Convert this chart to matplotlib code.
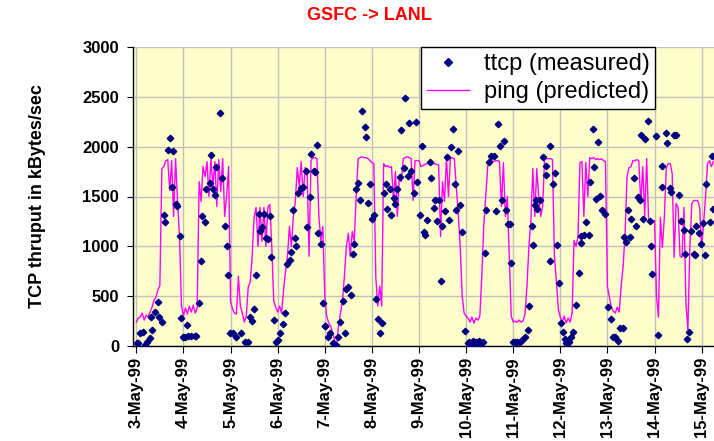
import numpy as np
import matplotlib
matplotlib.use('Agg')
import matplotlib.pyplot as plt

# hourly ping-predicted throughput (kBytes/sec), one list per day starting 00:00
ping_may03 = [240, 280, 290, 330, 260, 310, 290, 340, 390, 460, 490, 560, 610, 1780, 1800, 1860,
              1870, 1560, 1860, 1300, 1880, 1450, 1100, 400]
ping_may04 = [300, 380, 320, 400, 340, 410, 330, 380, 1650, 1450, 1800, 1700, 1850, 1500, 1880, 1600,
              1850, 1400, 1870, 1550, 1880, 1300, 1500, 1800]
ping_may05 = [450, 370, 330, 320, 700, 400, 330, 240, 300, 590, 640, 900, 1290, 1390, 1000, 1390,
              1050, 1390, 1000, 1390, 1420, 1000, 450, 390]
ping_may06 = [340, 400, 330, 560, 750, 900, 1200, 1000, 1300, 1450, 1790, 1600, 1850, 1500, 1790, 1750,
              900, 1860, 1890, 1890, 1880, 1300, 1050, 1200]
ping_may07 = [500, 300, 230, 200, 130, 60, 10, 200, 330, 450, 700, 1000, 1130, 900, 1150, 1050,
              1500, 1880, 1890, 1900, 1890, 1890, 1880, 1860]
ping_may08 = [1840, 1830, 690, 400, 600, 400, 1830, 1800, 1810, 1790, 1800, 1450, 1750, 1300, 1700, 1650,
              1880, 1890, 1900, 1890, 1880, 1460, 1860, 1860]
ping_may09 = [1860, 1800, 1810, 1820, 1830, 1830, 1830, 1830, 1830, 1820, 1820, 1100, 1650, 1450, 1890, 1500,
              1880, 1890, 1880, 1600, 1330, 1000, 500, 330]
ping_may10 = [300, 280, 240, 290, 230, 280, 260, 300, 700, 1200, 1500, 1800, 1860, 1860, 1850, 1860,
              1860, 1850, 1400, 1840, 1300, 1500, 900, 300]
ping_may11 = [240, 250, 240, 260, 240, 250, 320, 600, 1000, 1250, 1780, 1300, 1780, 1500, 1300, 1400,
              1880, 1880, 1880, 1880, 1870, 900, 650, 370]
ping_may12 = [290, 240, 300, 230, 280, 240, 330, 1060, 1000, 1100, 1840, 1850, 1300, 1840, 1500, 1890,
              1880, 1890, 1870, 1880, 1870, 1880, 1860, 1850]
ping_may13 = [600, 490, 390, 350, 330, 390, 340, 600, 800, 1130, 1700, 1790, 1800, 1860, 1860, 1870,
              1860, 1430, 1800, 1300, 1880, 1250, 1260, 1250]
ping_may14 = [1260, 500, 290, 1290, 990, 1290, 1790, 1830, 1830, 1730, 890, 1430, 1390, 900, 890, 1390,
              430, 160, 990, 1430, 1460, 1460, 1460, 1390]
ping_may15 = [990, 1230, 1500, 1830, 1860, 1800, 1850]

# ttcp measurements: hours since 3-May-99 00:00 and throughput
ttcp_hours = [0.3, 0.8, 2.0, 3.4, 4.2, 5.4, 6.8, 7.6, 8.1, 9.3, 11.0, 11.5, 13.2, 13.9, 14.7, 16.1,
              17.0, 18.1, 18.6, 20.0, 20.7, 22.0, 22.6, 24.0, 24.6, 25.9, 26.5, 28.0, 29.7, 30.6, 31.9, 33.1,
              33.6, 34.8, 35.6, 37.3, 38.2, 39.0, 39.9, 40.7, 42.8, 43.8, 45.0, 46.3, 46.8, 47.7,
              49.2, 50.8, 53.1, 55.2, 56.8, 57.7, 58.9, 60.0, 61.1, 62.3, 63.1, 64.1, 64.9, 66.2, 67.0, 68.2,
              68.7, 70.1, 71.3, 72.1, 73.4, 74.7, 75.9, 76.9, 78.1, 79.0, 79.8, 80.6, 81.5, 82.3, 83.7, 84.9,
              86.6, 87.1, 88.3, 89.1, 90.5, 91.2, 92.2, 92.8, 94.2, 95.0, 95.9,
              96.0, 97.6, 98.8, 100.2, 101.0, 101.9, 102.7, 103.9, 105.3, 106.1, 107.0, 107.8, 109.2, 110.4,
              110.9, 112.1, 113.0, 114.1, 115.1, 116.3, 116.8, 118.0, 118.9, 120.1, 120.9, 121.9, 123.1, 124.0,
              125.3, 126.0, 127.0, 127.8, 129.0, 129.9, 131.1, 131.9, 132.8, 134.2, 135.0, 136.4, 137.1, 138.4,
              138.9, 140.1, 141.3, 142.3, 143.2,
              144.3, 145.5, 146.6, 147.2, 148.2, 149.4, 150.3, 151.6, 152.3, 153.3, 154.0, 155.0, 155.8, 157.1,
              158.4, 159.1, 160.5, 161.3, 162.2, 163.0, 163.8, 164.7, 165.9, 167.3, 168.9, 169.7, 170.6, 171.4,
              172.3, 173.1, 174.0, 174.8, 175.7, 176.6, 177.5, 178.3, 179.7, 180.9, 182.2, 183.1, 184.3, 185.1,
              186.3, 187.3, 188.5, 189.4, 190.2, 191.1, 191.9,
              192.8, 193.9, 195.3, 196.6, 197.8, 199.5, 200.0, 201.5, 202.1, 202.9, 203.4, 204.1, 205.4, 207.1,
              208.5, 208.9, 210.6, 210.9, 212.3, 213.1, 214.3, 215.2, 216.5, 217.3, 218.2, 219.0, 220.4, 221.6,
              222.5, 224.2, 225.5, 226.4, 226.7, 228.1, 229.0, 230.7, 231.3, 232.7, 233.2, 234.4, 235.3, 236.4,
              237.0, 238.6, 240.3,
              241.7, 243.0, 244.1, 245.4, 246.3, 248.0, 248.5, 249.6, 250.5, 251.4, 252.2, 253.6, 254.8, 255.6,
              256.4, 257.3, 258.1, 259.3, 260.7, 261.5, 262.4, 262.9, 264.6, 265.8, 267.8, 268.0, 270.0, 270.5,
              271.8, 272.3, 273.9, 275.1, 276.3, 277.6, 279.0, 279.7, 280.7, 281.4, 282.7, 284.1, 284.8, 285.3,
              286.5, 287.5, 288.7, 289.9, 290.4, 292.1, 293.3, 294.0]
ttcp_kbs = [27, 33, 127, 143, 10, 43, 77, 293, 160, 343, 443, 293, 243, 1310, 1243, 1967,
            2087, 1600, 1953, 1420, 1403, 1100, 277, 87, 87, 210, 100, 100, 100, 100, 433, 853,
            1300, 1243, 1577, 1633, 1920, 1577, 1520, 1793, 2333, 1687, 1200, 1000, 710, 127,
            133, 87, 127, 43, 43, 287, 253, 370, 710, 1327, 1150, 1193, 1327, 1083, 1077, 1300,
            893, 260, 43, 60, 133, 220, 327, 827, 860, 943, 1367, 1087, 1003, 1533, 1587, 1600,
            1760, 1193, 1493, 1927, 1753, 1743, 2017, 1133, 1027, 433, 200,
            203, 93, 127, 27, 5, 10, 93, 243, 453, 133, 567, 593, 510, 927,
            1027, 1577, 1633, 1460, 2353, 2193, 2093, 1433, 1627, 1277, 1310, 467, 267, 127,
            227, 1533, 1627, 1377, 1577, 1310, 1487, 1420, 1577, 1700, 2167, 1787, 2487, 1710,
            2233, 1760, 1533, 2243, 1643,
            1310, 2010, 1143, 1110, 1267, 1843, 1687, 1387, 1467, 1253, 1467, 650, 1200, 1353,
            1893, 1267, 2000, 2177, 1627, 1367, 1960, 1410, 1143, 153, 30, 40, 20, 50,
            30, 40, 20, 50, 30, 40, 933, 1360, 1843, 1910, 1910, 1353, 2227, 2010,
            1467, 2053, 1360, 1220, 1220, 833, 37,
            37, 37, 37, 60, 87, 160, 400, 1203, 1010, 1410, 1467, 1377, 1467, 1900,
            1720, 1810, 853, 2010, 1627, 1733, 1010, 633, 227, 143, 67, 33, 43, 93,
            143, 410, 733, 1100, 1033, 1110, 1243, 1110, 1643, 2177, 1793, 1477, 2043, 1510,
            1367, 1320, 393,
            267, 87, 87, 53, 177, 177, 1093, 1043, 1360, 1093, 1277, 1687, 1200, 1500,
            1467, 2120, 1277, 2077, 2253, 1253, 1000, 727, 2110, 110, 1810, 1600, 2133, 2033,
            1587, 1543, 2120, 2120, 1520, 1253, 1167, 927, 67, 143, 1153, 920, 910, 1200,
            1133, 1020, 1233, 910, 1627, 1243, 1910, 1377]

day_labels = ['3-May-99', '4-May-99', '5-May-99', '6-May-99', '7-May-99', '8-May-99', '9-May-99',
              '10-May-99', '11-May-99', '12-May-99', '13-May-99', '14-May-99', '15-May-99']

ping = (ping_may03 + ping_may04 + ping_may05 + ping_may06 + ping_may07 + ping_may08 + ping_may09
        + ping_may10 + ping_may11 + ping_may12 + ping_may13 + ping_may14 + ping_may15)
ping_hours = np.arange(len(ping))

plt.rcParams['font.family'] = ['Liberation Sans', 'DejaVu Sans']

fig = plt.figure(figsize=(7.14, 4.41), dpi=100)
ax = fig.add_axes([133 / 714, 95 / 441, 581 / 714, 299 / 441])
ax.set_facecolor('#FFFFCC')

ax.plot(ttcp_hours, ttcp_kbs, ls='none', marker='D', ms=3.3, color='#000080',
        label='ttcp (measured)', zorder=3)
ax.plot(ping_hours, ping, color='#FF00FF', lw=1, label='ping (predicted)', zorder=2)

ax.set_xlim(-1.7, 294.3)
ax.set_ylim(0, 3000)
ax.set_xticks(np.arange(len(day_labels)) * 24)
ax.set_xticklabels(day_labels, rotation=90, fontsize=12, fontweight='bold')
ax.set_yticks(np.arange(0, 3001, 500))
ax.set_yticklabels([str(v) for v in range(0, 3001, 500)], fontsize=12, fontweight='bold')
ax.tick_params(axis='x', length=5, pad=3, color='black')
ax.tick_params(axis='y', length=4, pad=6, color='black')
ax.grid(True, color='#C0C0C0', lw=1)
ax.set_axisbelow(True)
for s in ['top', 'right']:
    ax.spines[s].set_visible(False)
for s in ['left', 'bottom']:
    ax.spines[s].set_color('black')
    ax.spines[s].set_linewidth(1)

ax.set_ylabel('TCP thruput in kBytes/sec', fontsize=13, fontweight='bold', labelpad=26)

fig.text(369 / 714, 1 - 15 / 441, 'GSFC -> LANL', color='#FF0000', fontsize=13,
         fontweight='bold', ha='center', va='center')

leg = ax.legend(loc='upper left', bbox_to_anchor=(421 / 714, 1 - 47 / 441),
                bbox_transform=fig.transFigure, fontsize=17, frameon=True, fancybox=False,
                framealpha=1, edgecolor='black', borderpad=0.25, labelspacing=0.25,
                handlelength=1.8, handletextpad=0.6, borderaxespad=0, markerscale=1.2)
leg.get_frame().set_linewidth(1)
leg.set_zorder(5)

fig.savefig('out.png', dpi=100)
